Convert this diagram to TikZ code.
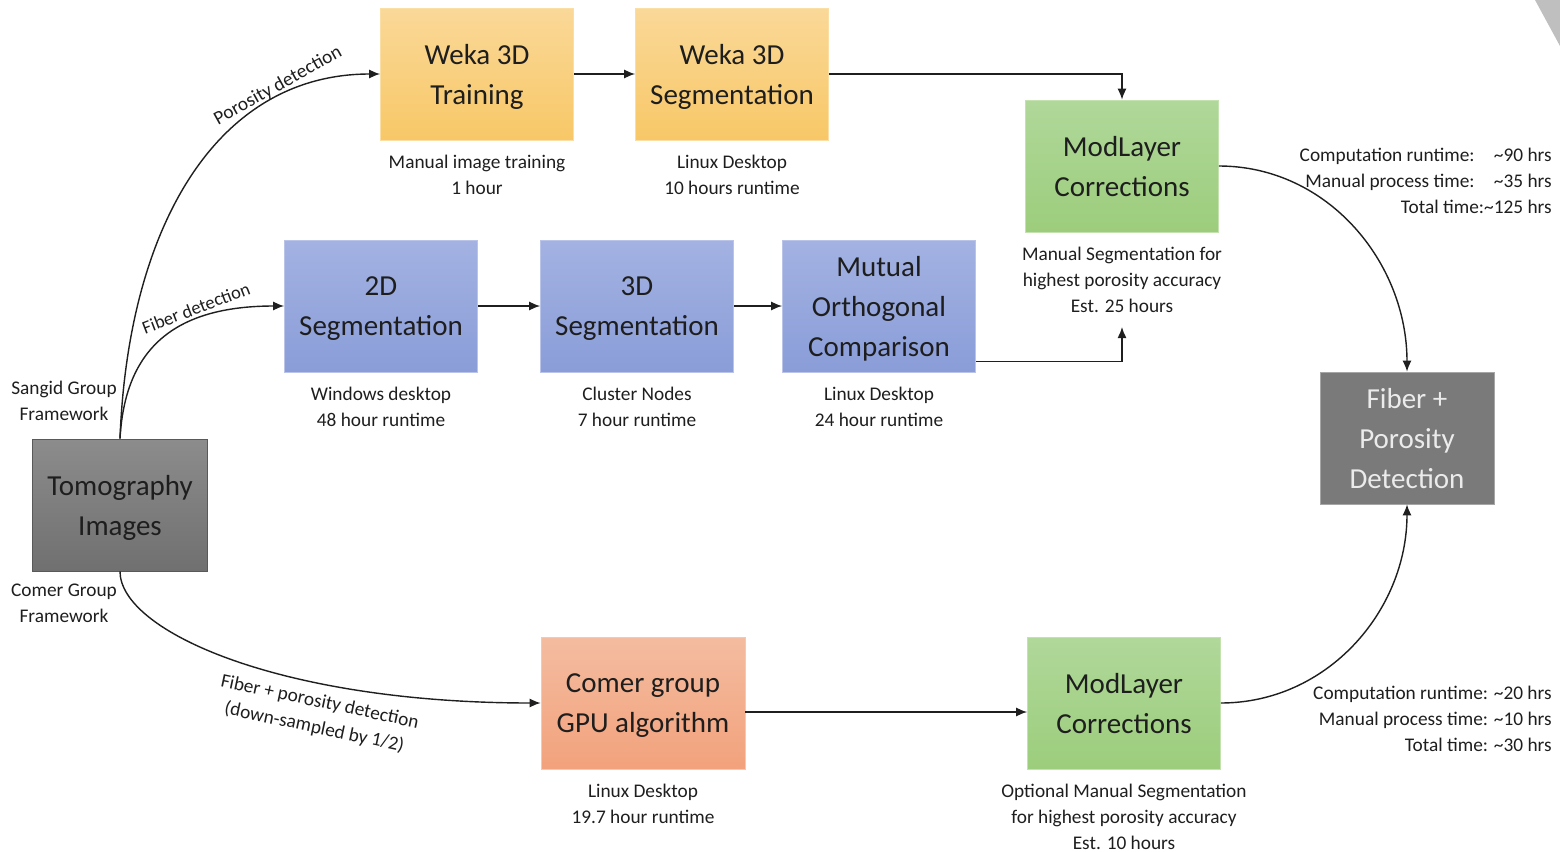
\documentclass[tikz,border=0pt]{standalone}
\usepackage{fontspec}
\setmainfont{Carlito}
\usetikzlibrary{positioning,arrows.meta}
\definecolor{wekatop}{HTML}{FAD898}
\definecolor{wekabot}{HTML}{F8C867}
\definecolor{segtop}{HTML}{A3B2E2}
\definecolor{segbot}{HTML}{8A9DD8}
\definecolor{modtop}{HTML}{B0D89A}
\definecolor{modbot}{HTML}{9CCD7C}
\definecolor{gputop}{HTML}{F4BCA0}
\definecolor{gpubot}{HTML}{F2A27C}
\definecolor{tomotop}{HTML}{8C8C8C}
\definecolor{tomobot}{HTML}{707070}
\definecolor{resfill}{HTML}{7A7A7A}
\definecolor{txt}{HTML}{1E1E1E}
\newcommand{\boxfont}{\fontsize{16.5}{22.8}\selectfont}
\newcommand{\notefont}{\fontsize{11}{14.8}\selectfont}
\tikzset{
  procbox/.style={rectangle, inner sep=0pt, minimum width=3.86cm, minimum height=2.64cm,
    align=center, font=\boxfont, text=txt, text depth=0pt},
  weka/.style={procbox, top color=wekatop, bottom color=wekabot, draw=wekabot!60!white},
  seg/.style={procbox, top color=segtop, bottom color=segbot, draw=segbot!60!white},
  modl/.style={procbox, top color=modtop, bottom color=modbot, draw=modbot!60!white},
  gpu/.style={procbox, top color=gputop, bottom color=gpubot, draw=gpubot!60!white},
  tomo/.style={procbox, top color=tomotop, bottom color=tomobot, draw=black!65},
  result/.style={procbox, fill=resfill, draw=black!35, text=white!92!black},
  note/.style={font=\notefont, align=center, text=txt, inner sep=0pt},
  link/.style={->, line width=0.8pt, draw=black!88},
}
\begin{document}
\begin{tikzpicture}[x=0.02cm, y=0.02cm, >={Latex[length=2.2mm,width=1.8mm]}]
  \useasboundingbox (0,0) rectangle (1560,-852);
  \fill[black!25] (1535,0) -- (1560,0) -- (1560,-46) -- cycle;

  \node[weka] (train) at (477,-74) {Weka 3D\\Training};
  \node[weka] (wseg) at (732,-74) {Weka 3D\\Segmentation};
  \node[modl] (modlayerA) at (1122,-166) {ModLayer\\Corrections};
  \node[seg] (seg2d) at (381,-306) {2D\\Segmentation};
  \node[seg] (seg3d) at (637,-306) {3D\\Segmentation};
  \node[seg] (mutual) at (879,-306) {Mutual\\Orthogonal\\Comparison};
  \node[tomo, minimum width=3.5cm] (tomo) at (120,-505) {Tomography\\Images};
  \node[result, minimum width=3.48cm] (result) at (1407,-438) {Fiber +\\Porosity\\Detection};
  \node[gpu, minimum width=4.08cm] (gpu) at (643,-703) {Comer group\\GPU algorithm};
  \node[modl] (modlayerB) at (1124,-703) {ModLayer\\Corrections};

  \node[note, below=0.28cm of train] (trainnote) {Manual image training\\1 hour};
  \node[note, below=0.28cm of wseg] (wsegnote) {Linux Desktop\\10 hours runtime};
  \node[note, below=0.28cm of modlayerA] (modnoteA) {Manual Segmentation for\\highest porosity accuracy\\Est. 25 hours};
  \node[note, below=0.28cm of seg2d] (seg2dnote) {Windows desktop\\48 hour runtime};
  \node[note, below=0.28cm of seg3d] (seg3dnote) {Cluster Nodes\\7 hour runtime};
  \node[note, below=0.28cm of mutual] (mutualnote) {Linux Desktop\\24 hour runtime};
  \node[note, below=0.28cm of gpu] (gpunote) {Linux Desktop\\19.7 hour runtime};
  \node[note, below=0.28cm of modlayerB] (modnoteB) {Optional Manual Segmentation\\for highest porosity accuracy\\Est. 10 hours};
  \node[note] (sangid) at (64,-401) {Sangid Group\\Framework};
  \node[note] (comer) at (64,-603) {Comer Group\\Framework};
  \node[note, align=right, anchor=north east] (timesA) at (1552,-148)
    {Computation runtime:\quad\textasciitilde90 hrs\\Manual process time:\quad\textasciitilde35 hrs\\Total time:\textasciitilde125 hrs};
  \node[note, align=right, anchor=north east] (timesB) at (1552,-686)
    {Computation runtime: \textasciitilde20 hrs\\Manual process time: \textasciitilde10 hrs\\Total time: \textasciitilde30 hrs};
  \node[note, rotate=29] (porolabel) at (278,-86) {Porosity detection};
  \node[note, rotate=21, font=\fontsize{10.5}{13}\selectfont] (fiberlabel) at (196,-308) {Fiber detection};
  \node[note, rotate=-12] (comerlabel) at (317,-715) {Fiber + porosity detection\\(down-sampled by 1/2)};
  \coordinate (modin) at (1122,-327);

  \draw[link] (train) -- (wseg);
  \draw[link] (wseg.east) -| (modlayerA.north);
  \draw[link] (seg2d) -- (seg3d);
  \draw[link] (seg3d) -- (mutual);
  \draw[link] ([yshift=0.22cm]mutual.south east) -| (modin);
  \draw[link] (gpu.east |- 0,-712) -- (modlayerB.west |- 0,-712);
  \draw[link] (tomo.north) .. controls +(8,210) and +(-165,0) .. (train.west);
  \draw[link] (tomo.north) .. controls +(5,90) and +(-110,0) .. (seg2d.west);
  \draw[link] (tomo.south) .. controls +(0,-60) and +(-260,0) .. (gpu.west);
  \draw[link] (modlayerA.east) to[out=0, in=90] (result.north);
  \draw[link] (modlayerB.east) to[out=0, in=-90] (result.south);
\end{tikzpicture}
\end{document}
